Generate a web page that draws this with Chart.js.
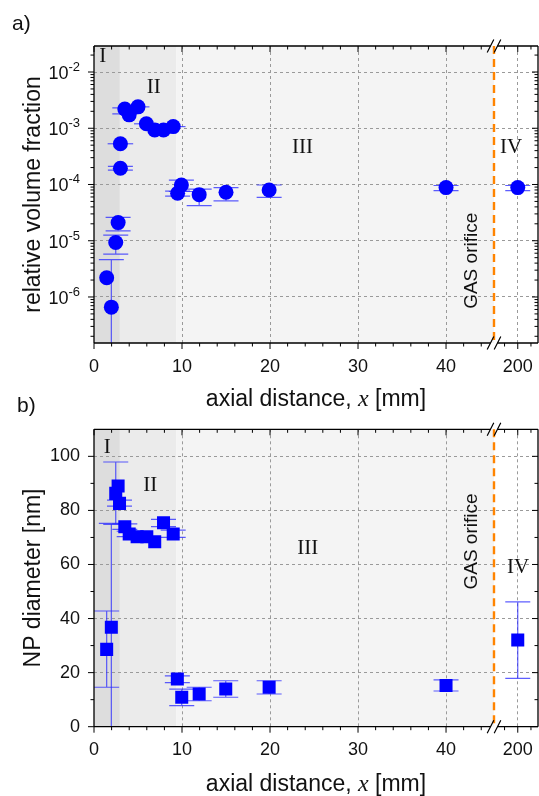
<!DOCTYPE html>
<html>
<head>
<meta charset="utf-8">
<title>Volume fraction and NP diameter vs axial distance</title>
<script src="https://cdn.jsdelivr.net/npm/chart.js"></script>
<style>
  body { margin: 0; background: #fff; }
  #wrap { position: relative; width: 539px; height: 796px; overflow: hidden; }
  canvas { position: absolute; left: 0; }
</style>
</head>
<body>
<div id="wrap">
  <canvas id="chartA" width="539" height="420" style="top:0"></canvas>
  <canvas id="chartB" width="539" height="413" style="top:383px"></canvas>
</div>
<script>
// x axis is cut: 0..45 mm linear, then a break, then the 200 mm point
const xTickValues = [0, 10, 20, 30, 40, 200];
const xMinorTicks = [2, 4, 6, 8, 12, 14, 16, 18, 22, 24, 26, 28, 32, 34, 36, 38, 42, 44, 185, 215];
const breakAt = 45.45;
const farPos = 48.15;   // where 200 mm sits on the cut axis
const xMax = 50.45;
function toAxis(x) { return x > 100 ? farPos + (x - 200) * 0.1 : x; }

// shaded zones I, II, III (zone IV stays white)
const regionEdges = [0, 2.94, 9.37, breakAt];
const regionColors = ['#dddddd', '#ebebeb', '#f4f4f4'];
const zoneNames = ['I', 'II', 'III', 'IV'];

// a) relative volume fraction
const volX    = [1.44, 1.97, 2.47, 2.74, 3.0, 3.0, 3.5, 4.0, 5.0, 5.95, 6.9, 7.9, 9.0, 9.5, 9.93, 11.95, 15.0, 19.9, 40, 200];
const volY    = [2.2e-6, 6.6e-7, 9.3e-6, 2.1e-5, 1.95e-4, 5.3e-4, 2.2e-3, 1.73e-3, 2.4e-3, 1.2e-3, 9.3e-4, 9.3e-4, 1.07e-3, 7.0e-5, 9.8e-5, 6.6e-5, 7.3e-5, 8.0e-5, 8.8e-5, 8.8e-5];
const volLo   = [null, 1e-8, 5.8e-6, 1.5e-5, 1.8e-4, null, 1.8e-3, null, null, null, null, null, null, 6.2e-5, 7.5e-5, 4.2e-5, 5.1e-5, 5.9e-5, 7.8e-5, 7.8e-5];
const volHi   = [null, 4.6e-6, 1.26e-5, 2.6e-5, 2.1e-4, null, 2.3e-3, null, null, null, null, null, null, 7.6e-5, 1.2e-4, 8.3e-5, 8.8e-5, 9.8e-5, 9.6e-5, 9.6e-5];
const volXErr = [0, 0, 0, 0, 0, 1.45, 0, 0, 1.3, 1.4, 0, 0, 1.4, 0, 0, 0, 0, 0, 0, 0];
const volTicks = [1e-6, 1e-5, 1e-4, 1e-3, 1e-2];

// b) NP diameter [nm]
const sizeX  = [1.44, 1.97, 2.47, 2.74, 2.9, 3.5, 4.0, 4.9, 6.0, 6.9, 7.9, 9.0, 9.47, 9.97, 11.95, 14.97, 19.9, 40, 200];
const sizeY  = [28.6, 36.8, 86.3, 89.0, 82.6, 74.0, 71.3, 70.3, 70.3, 68.4, 75.4, 71.3, 17.6, 10.9, 12.1, 13.9, 14.6, 15.2, 32.1];
const sizeLo = [14.6, -5, 74.8, null, 81.6, 73.0, 70.3, null, null, null, 74.0, 70.0, 16.3, 7.8, 9.6, 10.9, 12.1, 13.2, 17.9];
const sizeHi = [42.8, 75.2, 97.9, null, 83.8, 75.0, 72.3, null, null, null, 76.7, 72.7, 18.8, 13.9, 14.6, 17.0, 17.0, 17.3, 46.2];
const sizeTicks = [0, 20, 40, 60, 80, 100];
const sizeMinor = [10, 30, 50, 70, 90];

const sans = "'Liberation Sans', Arial, sans-serif";
const serif = "'Liberation Serif', 'Times New Roman', serif";
const blue = '#0000ff';
const errColor = 'rgba(40,40,255,0.75)';
const capHalf = 12.5;

function makeDecor(cfg) {
  return {
    id: 'decor',
    beforeDraw(chart) {
      const {ctx, chartArea: a, scales: {x}} = chart;
      ctx.save();
      for (let i = 0; i < regionColors.length; i++) {
        const x0 = x.getPixelForValue(regionEdges[i]);
        const x1 = x.getPixelForValue(regionEdges[i + 1]);
        ctx.fillStyle = regionColors[i];
        ctx.fillRect(x0, a.top, x1 - x0, a.bottom - a.top);
      }
      ctx.restore();
    },
    beforeDatasetsDraw(chart) {
      const {ctx, chartArea: a, scales: {x, y}} = chart;
      ctx.save();
      ctx.beginPath();
      ctx.rect(a.left, a.top, a.right - a.left, a.bottom - a.top);
      ctx.clip();
      ctx.strokeStyle = errColor;
      ctx.lineWidth = 1.2;
      cfg.xs.forEach((xv, i) => {
        const px = x.getPixelForValue(toAxis(xv));
        const py = y.getPixelForValue(cfg.ys[i]);
        ctx.beginPath();
        if (cfg.lo[i] != null) {
          const pl = y.getPixelForValue(cfg.lo[i]);
          const ph = y.getPixelForValue(cfg.hi[i]);
          ctx.moveTo(px, pl); ctx.lineTo(px, ph);
          ctx.moveTo(px - capHalf, pl); ctx.lineTo(px + capHalf, pl);
          ctx.moveTo(px - capHalf, ph); ctx.lineTo(px + capHalf, ph);
        }
        const dx = cfg.xErr ? cfg.xErr[i] : 0;
        if (dx) {
          ctx.moveTo(x.getPixelForValue(xv - dx), py);
          ctx.lineTo(x.getPixelForValue(xv + dx), py);
        }
        ctx.stroke();
      });
      ctx.restore();
    },
    afterDraw(chart) {
      const {ctx, chartArea: a, scales: {x, y}} = chart;
      const bx = x.getPixelForValue(breakAt);
      ctx.save();

      // GAS orifice line
      ctx.strokeStyle = '#ff8400';
      ctx.lineWidth = 2.4;
      ctx.setLineDash([8, 5]);
      ctx.beginPath();
      ctx.moveTo(bx, a.top); ctx.lineTo(bx, a.bottom);
      ctx.stroke();
      ctx.setLineDash([]);

      // frame with a gap at the break
      ctx.strokeStyle = '#000';
      ctx.lineWidth = 1.3;
      ctx.beginPath();
      [a.top, a.bottom].forEach(yy => {
        ctx.moveTo(a.left, yy); ctx.lineTo(bx - 3.5, yy);
        ctx.moveTo(bx + 3.5, yy); ctx.lineTo(a.right, yy);
      });
      ctx.moveTo(a.left, a.top); ctx.lineTo(a.left, a.bottom);
      ctx.moveTo(a.right, a.top); ctx.lineTo(a.right, a.bottom);
      ctx.stroke();

      // ticks: bottom/left outward, top/right inward
      ctx.lineWidth = 1;
      ctx.beginPath();
      const xt = (v, len) => {
        const p = x.getPixelForValue(toAxis(v));
        ctx.moveTo(p, a.bottom); ctx.lineTo(p, a.bottom + len);
        ctx.moveTo(p, a.top); ctx.lineTo(p, a.top + len);
      };
      xTickValues.forEach(v => xt(v, 6));
      xMinorTicks.forEach(v => xt(v, 3.5));
      const yt = (v, len) => {
        const p = y.getPixelForValue(v);
        if (p < a.top - 0.5 || p > a.bottom + 0.5) return;
        ctx.moveTo(a.left, p); ctx.lineTo(a.left - len, p);
        ctx.moveTo(a.right, p); ctx.lineTo(a.right - len, p);
      };
      cfg.yTicks.forEach(v => yt(v, 6));
      cfg.yMinor.forEach(v => yt(v, 3.5));
      ctx.stroke();

      // break marks
      ctx.lineWidth = 1.2;
      ctx.beginPath();
      [a.top, a.bottom].forEach(yy => {
        [-3.5, 3.5].forEach(o => {
          ctx.moveTo(bx + o - 3.3, yy + 6.5);
          ctx.lineTo(bx + o + 3.3, yy - 6.5);
        });
      });
      ctx.stroke();

      ctx.fillStyle = '#111';

      // power-of-ten labels: "10" with a raised exponent
      if (cfg.powerLabels) {
        ctx.textAlign = 'right';
        ctx.textBaseline = 'alphabetic';
        cfg.yTicks.forEach(v => {
          const p = y.getPixelForValue(v);
          const e = String(Math.round(Math.log10(v)));
          ctx.font = '13px ' + sans;
          const ew = ctx.measureText(e).width;
          ctx.fillText(e, 80, p - 1);
          ctx.font = '18px ' + sans;
          ctx.fillText('10', 80 - ew, p + 7);
        });
      }

      // zone names
      ctx.font = '21px ' + serif;
      ctx.textAlign = 'center';
      ctx.textBaseline = 'middle';
      cfg.zones.forEach((z, i) => {
        ctx.fillText(zoneNames[i], x.getPixelForValue(z[0]), y.getPixelForValue(z[1]));
      });

      // GAS orifice text
      ctx.save();
      ctx.translate(x.getPixelForValue(cfg.orifice[0]), y.getPixelForValue(cfg.orifice[1]));
      ctx.rotate(-Math.PI / 2);
      ctx.font = '19px ' + sans;
      ctx.fillText('GAS orifice', 0, 0);
      ctx.restore();

      // panel label
      ctx.textAlign = 'left';
      ctx.textBaseline = 'alphabetic';
      ctx.font = '21px ' + sans;
      ctx.fillText(cfg.panel, cfg.panelPos[0], cfg.panelPos[1]);

      // y title
      ctx.save();
      ctx.translate(32, (a.top + a.bottom) / 2);
      ctx.rotate(-Math.PI / 2);
      ctx.textAlign = 'center';
      ctx.font = '23px ' + sans;
      ctx.fillText(cfg.yTitle, 0, 8);
      ctx.restore();

      // x title with italic x
      const parts = [['axial distance, ', '23px ' + sans], ['x', 'italic 24px ' + serif], [' [mm]', '23px ' + sans]];
      let w = 0;
      parts.forEach(p => { ctx.font = p[1]; w += ctx.measureText(p[0]).width; });
      let cx = (a.left + a.right) / 2 - w / 2;
      parts.forEach(p => {
        ctx.font = p[1];
        ctx.fillText(p[0], cx, cfg.xTitleY);
        cx += ctx.measureText(p[0]).width;
      });
      ctx.restore();
    }
  };
}

function xScale(height) {
  return {
    type: 'linear',
    min: 0,
    max: xMax,
    afterBuildTicks: s => { s.ticks = xTickValues.map(v => ({value: toAxis(v)})); },
    // fixed height, and no extra side room for the end labels
    afterFit: s => { s.height = height; s.paddingLeft = 0; s.paddingRight = 0; },
    ticks: {
      callback: (v, i) => String(xTickValues[i]),
      font: {family: sans, size: 18},
      color: '#111',
      padding: 13,
      maxRotation: 0,
      autoSkip: false
    },
    grid: {
      color: c => (c.tick && c.tick.value === 0) ? 'rgba(0,0,0,0)' : '#9a9a9a',
      lineWidth: 1,
      drawTicks: false
    },
    border: {display: false, dash: [3, 3]}
  };
}

function yGrid() {
  return {
    color: c => (c.tick && c.tick.value === 0) ? 'rgba(0,0,0,0)' : '#9a9a9a',
    lineWidth: 1,
    drawTicks: false
  };
}

// minor ticks for the log axis
const volMinor = [];
for (let d = -7; d <= -2; d++) {
  for (let m = 2; m <= 9; m++) volMinor.push(m * Math.pow(10, d));
}

new Chart(document.getElementById('chartA'), {
  type: 'scatter',
  data: {
    datasets: [{
      label: 'relative volume fraction',
      data: volX.map((x, i) => ({x: toAxis(x), y: volY[i]})),
      pointStyle: 'circle',
      pointRadius: 7.5,
      pointBackgroundColor: blue,
      pointBorderWidth: 0
    }]
  },
  options: {
    responsive: false,
    animation: false,
    devicePixelRatio: 1,
    layout: {autoPadding: false, padding: {top: 46, right: 1, left: 0, bottom: 0}},
    plugins: {legend: {display: false}, tooltip: {enabled: false}},
    scales: {
      x: xScale(77),
      y: {
        type: 'logarithmic',
        min: 1.52e-7,
        max: 0.029,
        afterBuildTicks: s => { s.ticks = volTicks.map(v => ({value: v})); },
        afterFit: s => { s.width = 94; },
        ticks: {
          // drawn by the plugin with a raised exponent
          callback: v => '10^' + Math.round(Math.log10(v)),
          font: {family: sans, size: 18},
          color: 'rgba(0,0,0,0)',
          padding: 14
        },
        grid: yGrid(),
        border: {display: false, dash: [3, 3]}
      }
    }
  },
  plugins: [makeDecor({
    xs: volX, ys: volY, lo: volLo, hi: volHi, xErr: volXErr,
    yTicks: volTicks, yMinor: volMinor, powerLabels: true,
    zones: [[1.0, 1.85e-2], [6.8, 5.2e-3], [23.7, 4.5e-4], [47.4, 4.6e-4]],
    orifice: [42.9, 4.4e-6],
    panel: 'a)', panelPos: [12, 30],
    yTitle: 'relative volume fraction',
    xTitleY: 406
  })]
});

new Chart(document.getElementById('chartB'), {
  type: 'scatter',
  data: {
    datasets: [{
      label: 'NP diameter',
      data: sizeX.map((x, i) => ({x: toAxis(x), y: sizeY[i]})),
      pointStyle: 'rect',
      pointRadius: 9.2,
      pointBackgroundColor: blue,
      pointBorderWidth: 0
    }]
  },
  options: {
    responsive: false,
    animation: false,
    devicePixelRatio: 1,
    layout: {autoPadding: false, padding: {top: 46.3, right: 1, left: 0, bottom: 0}},
    plugins: {legend: {display: false}, tooltip: {enabled: false}},
    scales: {
      x: xScale(69.3),
      y: {
        type: 'linear',
        min: 0,
        max: 110,
        afterBuildTicks: s => { s.ticks = sizeTicks.map(v => ({value: v})); },
        afterFit: s => { s.width = 94; },
        ticks: {
          font: {family: sans, size: 18},
          color: '#111',
          padding: 14
        },
        grid: yGrid(),
        border: {display: false, dash: [3, 3]}
      }
    }
  },
  plugins: [makeDecor({
    xs: sizeX, ys: sizeY, lo: sizeLo, hi: sizeHi, xErr: null,
    yTicks: sizeTicks, yMinor: sizeMinor, powerLabels: false,
    zones: [[1.5, 103.3], [6.4, 89.3], [24.3, 66.0], [48.2, 59.0]],
    orifice: [42.9, 68.5],
    panel: 'b)', panelPos: [17, 29],
    yTitle: 'NP diameter [nm]',
    xTitleY: 408
  })]
});
</script>
</body>
</html>
